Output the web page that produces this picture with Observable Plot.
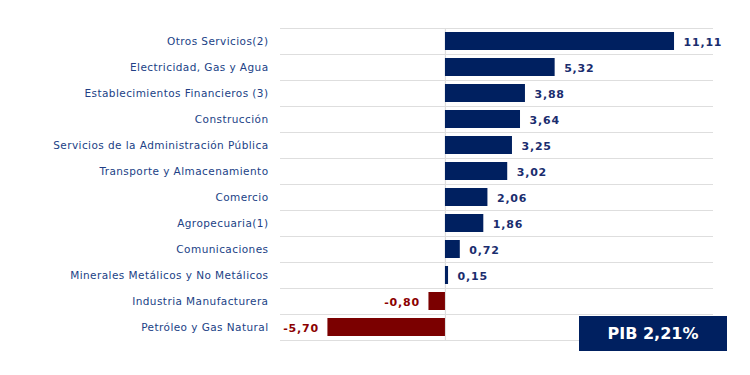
<!DOCTYPE html>
<html>
<head>
<meta charset="utf-8">
<script src="https://cdn.jsdelivr.net/npm/d3@7"></script>
<script src="https://cdn.jsdelivr.net/npm/@observablehq/plot@0.6"></script>
<style>
  html, body { margin: 0; padding: 0; background: #fff; }
  #wrap { position: relative; width: 750px; height: 375px; font-family: "DejaVu Sans", Verdana, sans-serif; }
  #pib { position: absolute; left: 579px; top: 316px; width: 148px; height: 35px; background: #002060;
         color: #fff; font: bold 16px "DejaVu Sans", Verdana, sans-serif; display: flex; align-items: center; justify-content: center; }
  .vlab text { letter-spacing: 0.8px; }
  .ylab text { letter-spacing: 0.43px; }
</style>
</head>
<body>
<div id="wrap"></div>
<script>
const categories = [
  "Otros Servicios(2)",
  "Electricidad, Gas y Agua",
  "Establecimientos Financieros (3)",
  "Construcción",
  "Servicios de la Administración Pública",
  "Transporte y Almacenamiento",
  "Comercio",
  "Agropecuaria(1)",
  "Comunicaciones",
  "Minerales Metálicos y No Metálicos",
  "Industria Manufacturera",
  "Petróleo y Gas Natural"
];
const values = [11.11, 5.32, 3.88, 3.64, 3.25, 3.02, 2.06, 1.86, 0.72, 0.15, -0.80, -5.70];
const pibLabel = "PIB 2,21%";

const data = categories.map((c, i) => ({category: c, value: values[i]}));
const pos = data.filter(d => d.value >= 0);
const neg = data.filter(d => d.value < 0);
const fmt = v => v.toFixed(2).replace(".", ",");
const navy = "#002060", red = "#7b0000";

const chart = Plot.plot({
  width: 750,
  height: 375,
  marginLeft: 280,
  marginRight: 37,
  marginTop: 28,
  marginBottom: 35,
  style: {fontFamily: "'DejaVu Sans', Verdana, sans-serif", background: "#fff"},
  x: {domain: [-8, 13], axis: null},
  y: {domain: categories, paddingInner: 0.3, paddingOuter: 0.15, label: null},
  marks: [
    Plot.ruleY(categories, {y: d => d, dy: -13, stroke: "#dedede", strokeWidth: 1.2}),
    Plot.ruleY([categories[categories.length - 1]], {y: d => d, dy: 13, stroke: "#dedede", strokeWidth: 1.2}),
    Plot.ruleX([0], {stroke: "#dedede", strokeWidth: 1.2}),
    Plot.barX(data, {y: "category", x: "value", fill: d => d.value < 0 ? red : navy}),
    Plot.text(pos, {
      y: "category", x: "value", text: d => fmt(d.value), dy: 0.5,
      textAnchor: "start", dx: 9, fill: "#1a2d6e", fontWeight: "bold", fontSize: 11, className: "vlab"
    }),
    Plot.text(neg, {
      y: "category", x: "value", text: d => fmt(d.value), dy: 0.5,
      textAnchor: "end", dx: -9, fill: "#8b0000", fontWeight: "bold", fontSize: 11, className: "vlab"
    }),
    Plot.axisY({tickSize: 0, tickPadding: 12, fontSize: 10.5, label: null, color: "#213f86", className: "ylab"})
  ]
});

document.getElementById("wrap").appendChild(chart);
const box = document.createElement("div");
box.id = "pib";
box.textContent = pibLabel;
document.getElementById("wrap").appendChild(box);
</script>
</body>
</html>
